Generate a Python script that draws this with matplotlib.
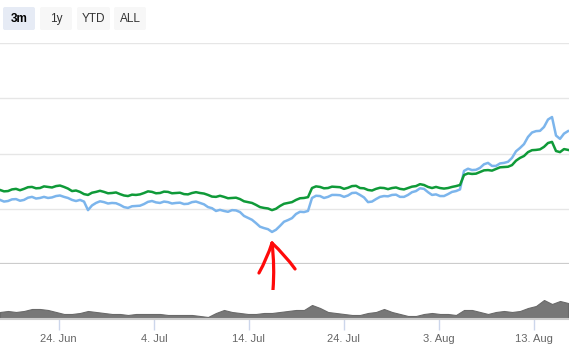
import pandas as pd
import matplotlib
matplotlib.use("Agg")
import matplotlib.pyplot as plt
from matplotlib.patches import FancyBboxPatch

plt.rcParams["font.family"] = ["Liberation Sans", "DejaVu Sans"]

# price index, two series (same timestamps)
green_vals = [
    106.8, 106.3, 106.4, 107.0, 107.2, 106.7, 107.2, 107.8, 107.9, 107.4,
    107.5, 108.1, 107.9, 107.7, 108.2, 108.4, 107.9, 107.3, 106.4, 106.6,
    106.1, 105.3, 105.0, 105.8, 106.1, 106.5, 106.1, 105.6, 105.7, 105.9,
    105.3, 104.8, 104.6, 105.1, 105.0, 105.2, 105.7, 106.3, 106.1, 105.6,
    105.7, 106.2, 106.1, 105.6, 105.7, 105.8, 105.3, 105.2, 105.7, 106.0,
    105.7, 105.5, 105.0, 104.4, 104.3, 104.7, 104.3, 103.8, 103.9, 104.0,
    103.5, 102.7, 102.4, 102.1, 101.4, 100.6, 100.3, 100.1, 99.5, 100.0,
    101.0, 101.8, 102.1, 102.4, 103.2, 103.8, 103.9, 104.2, 107.5, 108.1,
    107.9, 107.4, 107.5, 108.0, 107.9, 107.8, 107.2, 107.6, 108.2, 108.3,
    107.5, 107.4, 106.8, 106.6, 107.2, 107.6, 107.5, 107.1, 107.5, 107.7,
    107.2, 107.0, 107.5, 108.0, 108.2, 108.9, 108.6, 107.9, 107.5, 107.9,
    107.5, 107.3, 107.5, 107.9, 108.2, 108.6, 112.2, 112.8, 112.6, 112.7,
    113.3, 113.9, 114.0, 113.8, 114.4, 115.0, 115.1, 115.2, 115.8, 117.4,
    118.4, 119.1, 120.5, 121.2, 121.3, 121.5, 122.4, 123.8, 124.2, 120.9,
    120.5, 121.6, 121.3,
]
blue_vals = [
    103.2, 102.6, 102.8, 103.4, 103.5, 102.9, 103.2, 104.0, 104.3, 103.7,
    103.9, 104.3, 103.9, 104.1, 104.6, 104.8, 104.3, 103.9, 103.2, 102.8,
    103.2, 102.6, 99.5, 101.2, 102.1, 102.7, 102.4, 101.9, 102.1, 102.0,
    101.4, 100.6, 100.3, 100.9, 101.0, 101.1, 101.7, 102.5, 102.8, 102.3,
    102.1, 102.6, 102.4, 101.9, 102.1, 102.2, 101.7, 101.8, 102.4, 102.6,
    102.1, 101.6, 100.6, 100.2, 99.2, 99.6, 99.2, 98.9, 99.5, 99.4,
    98.8, 97.4, 96.7, 96.0, 94.8, 93.5, 93.0, 92.6, 91.6, 92.4,
    93.8, 95.3, 95.9, 96.6, 98.1, 98.9, 98.8, 99.2, 103.9, 104.7,
    104.6, 103.9, 104.3, 105.0, 105.0, 104.9, 104.3, 104.8, 105.7, 105.8,
    105.0, 104.1, 102.4, 102.6, 103.5, 104.3, 104.6, 104.5, 105.0, 105.1,
    104.3, 104.3, 105.0, 106.0, 106.4, 107.4, 107.2, 106.0, 105.0, 105.2,
    104.6, 104.6, 105.3, 106.1, 106.4, 107.0, 113.7, 114.5, 114.0, 114.1,
    114.8, 116.1, 116.6, 115.5, 115.5, 116.4, 116.6, 117.0, 118.4, 120.8,
    122.0, 123.4, 126.0, 127.6, 128.1, 128.2, 129.6, 132.3, 133.2, 126.5,
    125.3, 127.2, 128.1,
]
# navigator volume
volume = [
    7, 8, 7, 8, 10, 10, 9, 7, 5, 5, 6, 8, 7, 6, 5, 5, 4, 5, 5, 5,
    5, 4, 4, 4, 4, 3, 2, 6, 9, 7, 6, 5, 5, 6, 6, 7, 8, 9, 9, 14,
    11, 7, 6, 5, 4, 4, 6, 7, 10, 7, 5, 3, 3, 5, 6, 5, 5, 4, 9, 9,
    7, 5, 7, 8, 7, 8, 11, 13, 19, 15, 18, 16,
]
price_dates = pd.date_range("2018-06-17 19:30", "2018-08-16 14:00", periods=len(green_vals))
vol_dates = pd.date_range("2018-06-17 19:30", "2018-08-16 14:00", periods=len(volume))
tick_dates = pd.to_datetime(["2018-06-24", "2018-07-04", "2018-07-14",
                             "2018-07-24", "2018-08-03", "2018-08-13"])
tick_labels = ["24. Jun", "4. Jul", "14. Jul", "24. Jul", "3. Aug", "13. Aug"]
buttons = ["3m", "1y", "YTD", "ALL"]

W, H = 569, 356
fig = plt.figure(figsize=(W / 100, H / 100), dpi=100)
x0, x1 = pd.Timestamp("2018-06-17 19:30"), pd.Timestamp("2018-08-16 16:30")

# main pane
ax = fig.add_axes([0, 1 - 264 / H, 1, 221 / H])
for v in [100, 120, 140, 160]:
    ax.axhline(v, color="#e6e6e6", lw=1, zorder=0)
ax.axhline(80, color="#cccccc", lw=1.6, zorder=0)
ax.plot(price_dates, blue_vals, color="#7cb5ec", lw=1.8, zorder=2)
ax.plot(price_dates, green_vals, color="#0f9a38", lw=1.8, zorder=3)
ax.set_xlim(x0, x1)
ax.set_ylim(80, 160)
ax.axis("off")

# hand-drawn red arrow pointing at the dip
i_min = blue_vals.index(min(blue_vals))
tip = (price_dates[i_min], min(blue_vals) - 4.0)
for off in [(0.7, -33.8), (-9.4, -21.6), (16.6, -18.7)]:
    ax.annotate("", xy=tip, xytext=off, textcoords="offset points",
                arrowprops=dict(arrowstyle="-", color="#ff0a0a", lw=2.3,
                                shrinkA=0, shrinkB=0,
                                connectionstyle="arc3,rad=0.05"),
                annotation_clip=False)

# navigator
nav = fig.add_axes([0, 1 - 319 / H, 1, 29 / H])
nav.fill_between(vol_dates, volume, 0, color="#777777", lw=0.8, edgecolor="#6a6a6a")
nav.set_xlim(x0, x1)
nav.set_ylim(0, 29)
for s in ["top", "left", "right"]:
    nav.spines[s].set_visible(False)
nav.spines["bottom"].set_color("#cccccc")
nav.spines["bottom"].set_linewidth(1.5)
nav.set_yticks([])
nav.set_xticks(tick_dates)
nav.set_xticklabels(tick_labels)
nav.tick_params(axis="x", length=8, width=1, color="#ccd6eb", pad=3,
                labelsize=8, labelcolor="#666666")

# range selector buttons
ov = fig.add_axes([0, 0, 1, 1], zorder=5)
ov.set_xlim(0, W)
ov.set_ylim(H, 0)
ov.axis("off")
bx = [(3, 32), (40, 32), (77, 33), (114, 32)]
for k, (lbl, (bl, bw)) in enumerate(zip(buttons, bx)):
    sel = k == 0
    ov.add_patch(FancyBboxPatch((bl, 7), bw, 23, boxstyle="round,pad=0,rounding_size=2",
                                fc="#e6ebf5" if sel else "#f7f7f7", ec="none"))
    ov.text(bl + bw / 2, 19, lbl, ha="center", va="center", fontsize=8.5,
            color="#000000" if sel else "#333333",
            fontweight="bold" if sel else "normal")

fig.savefig("out.png", dpi=100)
plt.close(fig)
